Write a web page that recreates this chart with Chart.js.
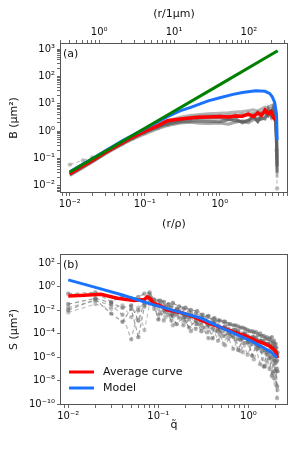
<!DOCTYPE html>
<html>
<head>
<meta charset="utf-8">
<script src="https://cdn.jsdelivr.net/npm/chart.js@4.4.1/dist/chart.umd.min.js"></script>
</head>
<body style="margin:0;background:#fff">
<div style="position:relative;width:300px;height:450px">
  <canvas id="chartA" width="300" height="245" style="position:absolute;left:0;top:0"></canvas>
  <canvas id="chartB" width="300" height="225" style="position:absolute;left:0;top:225px"></canvas>
</div>
<script>
// ---- panel (a): B vs r/rho
const R_POWER = [0.01, 0.1, 1, 5.9];
const B_POWER = [0.032, 1.27, 50, 860];

const R_MODEL = [0.01, 0.02, 0.05, 0.1, 0.2, 0.3, 0.4, 0.7, 1, 1.5, 2, 3, 4, 4.6, 5, 5.4, 5.7, 5.8];
const B_MODEL = [0.033, 0.1, 0.44, 1.22, 3.4, 5.6, 7.2, 12.8, 16.5, 22, 26, 30, 28.5, 24, 18, 11, 4, 0.47];

const R_AVG = [0.01, 0.015, 0.02, 0.03, 0.05, 0.07, 0.1, 0.15, 0.2, 0.3, 0.4, 0.5, 0.7, 1.0, 1.3, 1.6, 2.0, 2.4, 2.8, 3.2, 3.6, 4.0, 4.4, 4.8, 5.2, 5.5];
const B_AVG = [0.028, 0.054, 0.085, 0.17, 0.38, 0.62, 1.0, 1.6, 2.4, 2.8, 3.0, 3.2, 3.3, 3.4, 3.3, 3.6, 3.5, 4.2, 3.4, 4.6, 3.8, 5.9, 4.4, 5.2, 3.0, 2.6];

const R_SAMPLE = [0.01, 0.015, 0.02, 0.03, 0.05, 0.07, 0.1, 0.15, 0.2, 0.3, 0.4, 0.5, 0.7, 1.0, 1.3, 1.6, 2.0, 2.4, 2.8, 3.2, 3.6, 4.0, 4.4, 4.8, 5.2, 5.5, 5.7, 5.8];
const B_SAMPLE1 = [0.026, 0.05, 0.08, 0.16, 0.35, 0.57, 0.9, 1.4, 1.8, 2.2, 2.3, 2.4, 2.3, 2.2, 2.6, 2.9, 2.0, 2.4, 3.6, 2.3, 3.0, 2.8, 6.5, 3.5, 8.0, 4.0, 0.6, 0.05];
const B_SAMPLE2 = [0.03, 0.057, 0.09, 0.18, 0.42, 0.68, 1.1, 1.8, 2.4, 3.2, 3.7, 4.0, 4.3, 4.5, 4.7, 5.0, 5.2, 5.6, 6.0, 5.4, 6.5, 7.5, 7.0, 8.5, 9.0, 5.0, 1.0, 0.1];
const B_SAMPLE3 = [0.027, 0.052, 0.083, 0.165, 0.37, 0.6, 0.95, 1.5, 2.0, 2.6, 2.9, 3.0, 3.1, 3.0, 2.7, 2.4, 2.2, 2.5, 3.2, 2.2, 4.2, 5.0, 3.6, 4.8, 5.5, 3.0, 0.3, 0.03];
const B_SAMPLE4 = [0.06, 0.085, 0.11, 0.18, 0.34, 0.55, 0.85, 1.3, 1.7, 2.3, 2.7, 3.0, 3.4, 3.6, 3.5, 4.0, 3.8, 4.5, 4.2, 5.0, 4.5, 5.8, 5.0, 6.5, 6.0, 2.5, 0.2, 0.008];
const B_SAMPLE5 = [0.025, 0.048, 0.078, 0.155, 0.36, 0.6, 0.97, 1.55, 2.1, 2.8, 3.2, 3.5, 3.7, 3.6, 3.9, 3.7, 4.2, 3.9, 4.6, 4.2, 5.0, 4.6, 6.0, 5.5, 7.0, 3.5, 0.5, 0.02];
const B_SAMPLE6 = [0.024, 0.046, 0.075, 0.15, 0.33, 0.52, 0.8, 1.25, 1.6, 2.0, 2.1, 2.0, 1.9, 2.0, 1.8, 2.1, 2.4, 2.0, 2.6, 3.0, 2.7, 3.2, 3.8, 4.5, 6.0, 3.2, 0.4, 0.06];

// ---- panel (b): S vs q~
const Q_MODEL = [0.01, 0.02, 0.04, 0.08, 0.15, 0.3, 0.5, 0.8, 1.05, 1.4, 1.8, 2.08];
const S_MODEL = [3.7, 0.85, 0.19, 0.035, 0.0089, 2e-3, 3.2e-4, 6.3e-5, 2.5e-5, 7.9e-6, 2.5e-6, 9e-7];

const Q_AVG = [0.01, 0.015, 0.023, 0.035, 0.054, 0.07, 0.075, 0.082, 0.088, 0.11, 0.125, 0.15, 0.19, 0.25, 0.32, 0.41, 0.55, 0.7, 0.97, 1.2, 1.5, 1.75, 2.0, 2.1];
const S_AVG = [0.16, 0.18, 0.22, 0.10, 0.065, 0.08, 0.13, 0.09, 0.039, 0.02, 0.0105, 0.008, 0.0054, 0.0025, 0.0011, 5.5e-4, 2.5e-4, 1.26e-4, 5.5e-5, 2.5e-5, 1.4e-5, 8e-6, 3.2e-6, 8e-7];

const Q_SAMPLE = [0.01, 0.02, 0.03, 0.04, 0.05, 0.06, 0.07, 0.08, 0.09, 0.10, 0.12, 0.14, 0.16, 0.19, 0.22, 0.26, 0.30, 0.35, 0.40, 0.46, 0.53, 0.60, 0.68, 0.77, 0.87, 0.98, 1.10, 1.22, 1.35, 1.48, 1.60, 1.72, 1.82, 1.92, 2.00, 2.08];
const S_SAMPLE1 = [2.5e-1, 3.2e-1, 5e-2, 1.6e-1, 1e-1, 1.3e-1, 2.5e-1, 3.2e-1, 7.9e-2, 6.3e-2, 2.5e-2, 2e-2, 1.3e-2, 1.3e-2, 7.9e-3, 5e-3, 3.2e-3, 2.5e-3, 1.6e-3, 1.3e-3, 1e-3, 6.3e-4, 5e-4, 4e-4, 3.2e-4, 2e-4, 1.6e-4, 1.3e-4, 1e-4, 6.3e-5, 5e-5, 4e-5, 5e-5, 2.5e-5, 1.3e-5, 1.6e-6];
const S_SAMPLE2 = [1.6e-2, 6.3e-2, 2.5e-2, 4e-3, 3.2e-5, 1e-2, 5e-2, 1.6e-1, 1.3e-2, 4e-3, 6.3e-3, 1.3e-3, 4e-3, 5e-4, 1.6e-3, 2.5e-4, 7.9e-4, 1.3e-4, 3.2e-4, 2.5e-5, 1.6e-4, 4e-5, 5e-6, 3.2e-5, 1.6e-5, 1.6e-6, 1.3e-5, 5e-6, 2.5e-7, 4e-6, 1.6e-6, 1e-7, 1e-6, 1.6e-8, 3.2e-7, 3.2e-10];
const S_SAMPLE3 = [1e-2, 7.9e-2, 5e-3, 1e-3, 1.3e-2, 5e-5, 2e-2, 6.3e-2, 2.5e-2, 1.6e-3, 1e-2, 3.2e-3, 6.3e-4, 2.5e-3, 3.2e-4, 1.3e-3, 1.6e-4, 6.3e-4, 4e-5, 2.5e-4, 6.3e-5, 1e-4, 5e-5, 4e-6, 4e-5, 2e-5, 1.3e-6, 1e-5, 6.3e-6, 1.6e-7, 2.5e-6, 7.9e-7, 2.5e-8, 5e-7, 6.3e-8, 3.2e-9];
const S_SAMPLE4 = [6.3e-3, 3.2e-2, 1.3e-2, 2.5e-2, 2.5e-3, 1.6e-2, 2e-4, 3.2e-2, 5e-2, 1.3e-2, 2.5e-3, 6.3e-3, 5e-3, 1.3e-3, 3.2e-3, 7.9e-4, 5e-4, 3.2e-4, 2.5e-4, 1.6e-4, 1.3e-5, 1.3e-4, 7.9e-5, 5e-5, 2.5e-6, 3.2e-5, 2e-5, 1.3e-5, 7.9e-6, 4e-6, 3.2e-7, 4e-6, 2.5e-6, 1e-6, 5e-9, 1e-7];
const S_SAMPLE5 = [3.2e-2, 1e-1, 4e-2, 1.6e-2, 2.5e-2, 1.3e-3, 4e-2, 2e-1, 6.3e-2, 2.5e-2, 1.6e-2, 5e-3, 1e-2, 4e-3, 2.5e-3, 2.5e-3, 1.6e-3, 1e-3, 7.9e-4, 5e-4, 3.2e-4, 2.5e-4, 2e-4, 1.6e-4, 1e-4, 6.3e-5, 5e-5, 4e-5, 2.5e-5, 2e-5, 1.3e-5, 1e-5, 7.9e-6, 6.3e-6, 3.2e-6, 5e-7];

const Q_DENSE = [0.105, 0.115, 0.13, 0.145, 0.17, 0.2, 0.23, 0.27, 0.31, 0.36, 0.42, 0.48, 0.55, 0.63, 0.72, 0.82, 0.92, 1.03, 1.15, 1.28, 1.4, 1.54, 1.66, 1.77, 1.87, 1.96, 2.04, 2.1];
const S_DENSE1 = [6.3e-2, 5e-2, 3.2e-2, 4e-2, 2e-2, 1.6e-2, 1e-2, 7.9e-3, 4e-3, 3.2e-3, 2e-3, 1.3e-3, 1e-3, 6.3e-4, 5e-4, 3.2e-4, 2.5e-4, 1.6e-4, 1.3e-4, 7.9e-5, 6.3e-5, 4e-5, 3.2e-5, 2.5e-5, 1.6e-5, 1.3e-5, 6.3e-6, 2.5e-6];
const S_DENSE2 = [6.3e-3, 1.3e-3, 4e-3, 5e-4, 2.5e-3, 1e-3, 1.6e-4, 7.9e-4, 3.2e-4, 4e-5, 2e-4, 7.9e-5, 1e-5, 6.3e-5, 3.2e-5, 3.2e-6, 1.6e-5, 1e-5, 6.3e-7, 5e-6, 3.2e-6, 1.6e-7, 1.6e-6, 1e-6, 4e-8, 5e-7, 1e-7, 1.6e-9];
const S_DENSE3 = [3.2e-2, 1e-2, 1.6e-2, 4e-3, 7.9e-3, 2.5e-3, 4e-3, 6.3e-4, 2e-3, 5e-4, 1e-3, 1.6e-4, 4e-4, 1e-4, 2e-4, 3.2e-5, 1e-4, 2e-5, 5e-5, 7.9e-6, 2.5e-5, 4e-6, 1.3e-5, 2.5e-6, 6.3e-6, 1.3e-6, 2e-6, 6.3e-8];

// ---- tick values
const B_TICKS = [1e-2, 1e-1, 1e0, 1e1, 1e2, 1e3];
const RHO_TICKS = [1e-2, 1e-1, 1e0];
const UM_TICKS = [1e0, 1e1, 1e2];
const S_TICKS = [1e-10, 1e-8, 1e-6, 1e-4, 1e-2, 1e0, 1e2];
const Q_TICKS = [1e-2, 1e-1, 1e0];
const UM_PER_RHO = 41;
const LEGEND_ORDER = ['Average curve', 'Model'];

const RED = '#ff0000';
const BLUE = 'rgb(25, 115, 255)';
const GREEN = '#008000';

Chart.defaults.font.family = 'DejaVu Sans';
Chart.defaults.font.size = 10;
Chart.defaults.color = '#111';
Chart.defaults.animation = false;

const SUP = {'-': '\u207b', '0': '\u2070', '1': '\u00b9', '2': '\u00b2', '3': '\u00b3', '4': '\u2074', '5': '\u2075', '6': '\u2076', '7': '\u2077', '8': '\u2078', '9': '\u2079'};
function logLabel(v) {
    var e = Math.round(Math.log10(v));
    return '10' + String(e).split('').map(function (c) { return SUP[c]; }).join('');
}

function pts(xs, ys) {
    return xs.map(function (x, i) { return {x: x, y: ys[i]}; });
}

function logTicks(majors, minor) {
    return function (scale) {
        var lo = scale.min, hi = scale.max, ticks = [];
        majors.forEach(function (v) { if (v >= lo && v <= hi) ticks.push({value: v, major: true}); });
        if (minor) {
            for (var e = Math.floor(Math.log10(lo)); e <= Math.ceil(Math.log10(hi)); e++) {
                for (var m = 2; m <= 9; m++) {
                    var v = m * Math.pow(10, e);
                    if (v >= lo && v <= hi) ticks.push({value: v, major: false});
                }
            }
        }
        ticks.sort(function (a, b) { return a.value - b.value; });
        scale.ticks = ticks;
    };
}

function logAxis(o) {
    return {
        type: 'logarithmic',
        position: o.position,
        min: o.min,
        max: o.max,
        afterBuildTicks: logTicks(o.majors, o.minor),
        afterFit: function (scale) {
            if (scale.isHorizontal()) scale.height = o.size; else scale.width = o.size;
        },
        grid: {drawOnChartArea: false, tickLength: 3, tickColor: '#444', tickWidth: 0.8},
        border: {display: false},
        ticks: {
            autoSkip: false, maxRotation: 0, padding: 2, color: '#111',
            callback: function (v, i, t) { return t[i].major ? logLabel(v) : ''; }
        },
        title: {display: true, text: o.title, color: '#111', font: {size: 11}, padding: o.pad}
    };
}

// box around the plot + panel letter
const framePlugin = {
    id: 'frame',
    afterDraw: function (chart, args, opts) {
        var ctx = chart.ctx, a = chart.chartArea;
        ctx.save();
        ctx.strokeStyle = '#555';
        ctx.lineWidth = 1;
        ctx.strokeRect(a.left + 0.5, a.top + 0.5, a.right - a.left - 1, a.bottom - a.top - 1);
        ctx.fillStyle = '#111';
        ctx.font = '11px "DejaVu Sans"';
        ctx.textBaseline = 'middle';
        ctx.fillText(opts.text, a.left + 3, a.top + 11);
        ctx.restore();
    }
};

// legend in the lower left corner of the plot
const insideLegend = {
    id: 'insideLegend',
    afterDraw: function (chart) {
        var ctx = chart.ctx, a = chart.chartArea;
        var items = LEGEND_ORDER.map(function (name) {
            return chart.data.datasets.find(function (d) { return d.label === name; });
        });
        ctx.save();
        ctx.font = '11px "DejaVu Sans"';
        ctx.textBaseline = 'middle';
        items.forEach(function (d, i) {
            var y = a.bottom - 33 + i * 16;
            ctx.strokeStyle = d.borderColor;
            ctx.lineWidth = 3;
            ctx.beginPath();
            ctx.moveTo(a.left + 9, y);
            ctx.lineTo(a.left + 34, y);
            ctx.stroke();
            ctx.fillStyle = '#111';
            ctx.fillText(d.label, a.left + 43, y);
        });
        ctx.restore();
    }
};

function graySolid(ys, color) {
    return {data: pts(R_SAMPLE, ys), showLine: true, borderColor: color, borderWidth: 3, pointRadius: 0};
}
function grayDashed(xs, ys, color) {
    return {data: pts(xs, ys), showLine: true, borderColor: color, borderWidth: 1.2, borderDash: [4, 3],
            pointRadius: 2.2, pointBackgroundColor: color, pointBorderWidth: 0};
}

var rhoMin = 0.0074, rhoMax = 8.1;

new Chart(document.getElementById('chartA'), {
    type: 'scatter',
    data: {
        datasets: [
            {data: pts(R_POWER, B_POWER), showLine: true, borderColor: GREEN, borderWidth: 3, pointRadius: 0},
            {data: pts(R_MODEL, B_MODEL), showLine: true, borderColor: BLUE, borderWidth: 3, pointRadius: 0},
            {data: pts(R_AVG, B_AVG), showLine: true, borderColor: RED, borderWidth: 3.5, pointRadius: 0},
            graySolid(B_SAMPLE1, 'rgba(95, 95, 95, 0.75)'),
            graySolid(B_SAMPLE3, 'rgba(85, 85, 85, 0.7)'),
            graySolid(B_SAMPLE6, 'rgba(120, 120, 120, 0.65)'),
            graySolid(B_SAMPLE2, 'rgba(130, 130, 130, 0.6)'),
            graySolid(B_SAMPLE5, 'rgba(150, 150, 150, 0.6)'),
            grayDashed(R_SAMPLE, B_SAMPLE4, 'rgba(150, 150, 150, 0.6)')
        ]
    },
    options: {
        responsive: false,
        layout: {padding: {left: 0, right: 12, top: 0, bottom: 0}},
        plugins: {legend: {display: false}, tooltip: {enabled: false}, frame: {text: '(a)'}},
        scales: {
            x: logAxis({position: 'bottom', min: rhoMin, max: rhoMax, majors: RHO_TICKS, minor: true,
                        size: 52, title: '(r/\u03c1)', pad: {top: 0, bottom: 14}}),
            xTop: logAxis({position: 'top', min: rhoMin * UM_PER_RHO, max: rhoMax * UM_PER_RHO, majors: UM_TICKS, minor: true,
                           size: 43, title: '(r/1\u03bcm)', pad: {top: 8, bottom: 0}}),
            y: logAxis({position: 'left', min: 0.0055, max: 1660, majors: B_TICKS, minor: true,
                        size: 60, title: 'B (\u03bcm\u00b2)', pad: {top: 8, bottom: 0}})
        }
    },
    plugins: [framePlugin]
});

new Chart(document.getElementById('chartB'), {
    type: 'scatter',
    data: {
        datasets: [
            {label: 'Model', data: pts(Q_MODEL, S_MODEL), showLine: true, borderColor: BLUE, borderWidth: 3, pointRadius: 0},
            {label: 'Average curve', data: pts(Q_AVG, S_AVG), showLine: true, borderColor: RED, borderWidth: 3.5, pointRadius: 0},
            grayDashed(Q_SAMPLE, S_SAMPLE1, 'rgba(110, 110, 110, 0.6)'),
            grayDashed(Q_SAMPLE, S_SAMPLE2, 'rgba(120, 120, 120, 0.55)'),
            grayDashed(Q_SAMPLE, S_SAMPLE3, 'rgba(100, 100, 100, 0.6)'),
            grayDashed(Q_SAMPLE, S_SAMPLE4, 'rgba(150, 150, 150, 0.55)'),
            grayDashed(Q_SAMPLE, S_SAMPLE5, 'rgba(90, 90, 90, 0.6)'),
            grayDashed(Q_DENSE, S_DENSE1, 'rgba(100, 100, 100, 0.65)'),
            grayDashed(Q_DENSE, S_DENSE2, 'rgba(130, 130, 130, 0.55)'),
            grayDashed(Q_DENSE, S_DENSE3, 'rgba(90, 90, 90, 0.65)')
        ]
    },
    options: {
        responsive: false,
        layout: {padding: {left: 0, right: 12, top: 29, bottom: 0}},
        plugins: {legend: {display: false}, tooltip: {enabled: false}, frame: {text: '(b)'}},
        scales: {
            x: logAxis({position: 'bottom', min: 0.0081, max: 2.75, majors: Q_TICKS, minor: true,
                        size: 45, title: 'q\u0303', pad: {top: 0, bottom: 18}}),
            y: logAxis({position: 'left', min: 8.3e-11, max: 590, majors: S_TICKS, minor: false,
                        size: 60, title: 'S (\u03bcm\u00b2)', pad: {top: 8, bottom: 0}})
        }
    },
    plugins: [framePlugin, insideLegend]
});
</script>
</body>
</html>
